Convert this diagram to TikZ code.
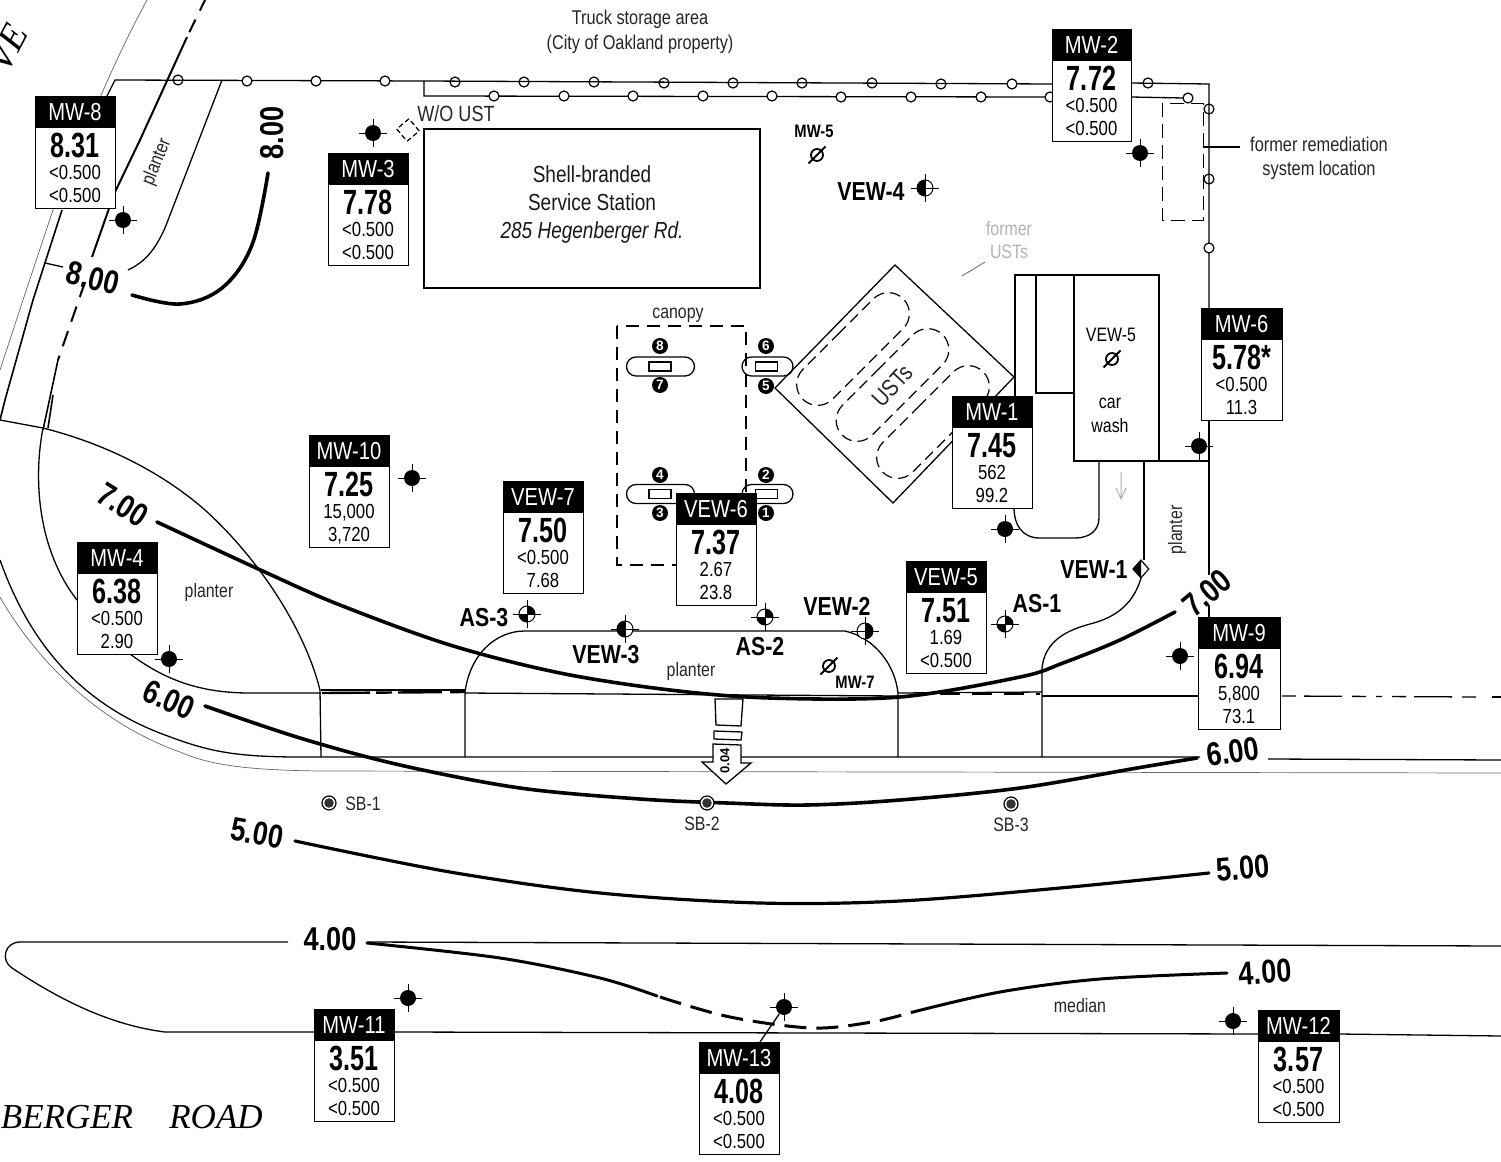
\documentclass[tikz,border=0pt]{standalone}
\usepackage{fontspec}
\setmainfont{Liberation Sans}
\newfontfamily\nar[FakeStretch=0.82]{Liberation Sans}
\newfontfamily\narv[FakeStretch=0.72]{Liberation Sans}
\newfontfamily\rdfont{Liberation Serif}
\usetikzlibrary{shapes.misc,shapes.geometric}
\newcommand\fsz[1]{\fontsize{#1}{#1}\selectfont}
\tikzset{
  base/.style={line width=0.65pt,black},
  hair/.style={line width=0.35pt,black!60},
  contourline/.style={line width=1.8pt,line cap=round},
  lbl/.style={inner sep=0,font=\nar\fsz{9.7},text=black!85,align=center},
  blbl/.style={inner sep=0,font=\nar\bfseries\fsz{13}},
  slbl/.style={inner sep=0,font=\nar\bfseries\fsz{9}},
  clbl/.style={inner sep=0,font=\nar\bfseries\fsz{16.5}},
  frame/.style={draw,line width=0.7pt,fill=white,anchor=north west,minimum width=40pt,minimum height=56pt,inner sep=0},
  hdr/.style={fill=black,text=white,minimum width=40pt,minimum height=16pt,inner sep=0,font=\nar\fsz{12.3}},
  val/.style={inner sep=0,anchor=base,font=\narv\bfseries\fsz{17.5}},
  sub/.style={inner sep=0,anchor=base,font=\nar\fsz{10.2}},
  disp/.style={draw,line width=0.65pt,rounded rectangle,minimum height=9.5pt,inner sep=0},
  rectmark/.style={draw,line width=0.65pt,minimum width=11pt,minimum height=4.5pt,inner sep=0},
  num/.style={circle,fill=black,text=white,minimum size=8pt,inner sep=0,font=\bfseries\fsz{6.8}},
  fencepost/.style={circle,draw,line width=0.6pt,minimum size=5pt,inner sep=0},
  fenceopen/.style={fencepost,fill=white},
  tank/.style={draw,dash pattern=on 5.5pt off 3pt,line width=0.6pt,rounded rectangle,minimum width=71pt,minimum height=21pt,rotate=45,inner sep=0},
  wdot/.style={circle,fill=black,minimum size=8pt,inner sep=0},
  wring/.style={circle,draw,line width=0.5pt,fill=white,minimum size=8pt,inner sep=0},
  slashc/.style={circle,draw,line width=0.9pt,minimum size=6pt,inner sep=0},
  sbmark/.style={circle,draw,line width=0.6pt,fill=white,minimum size=7pt,inner sep=0},
}
\newcommand\wellbox[8]{% name, left, top, title, value, a, b, half width
  \node[frame,minimum width=#8pt] (#1) at (#2,#3) {};
  \node[hdr,minimum width=#8pt] (#1h) at ({#2+#8},{#3+16}) {#4};
  \node[val] (#1v) at ({#2+#8},{#3+61.5}) {#5};
  \node[sub] (#1a) at ({#2+#8},{#3+83}) {#6};
  \node[sub] (#1b) at ({#2+#8},{#3+106}) {#7};
}
\newcommand\crosshair[1]{%
  \draw[line width=0.45pt] (#1.center) +(-14,0) -- +(14,0) (#1.center) +(0,-14) -- +(0,14);}
\newcommand\fullwell[3]{\node[wdot] (#1) at (#2,#3) {};\crosshair{#1}}
\newcommand\halfwell[4]{% name,x,y,start angle
  \node[wring] (#1) at (#2,#3) {};\crosshair{#1}
  \fill (#1.center) ++(#4:4pt) arc[start angle=#4,delta angle=180,radius=4pt] -- cycle;}
\newcommand\quartwell[3]{%
  \node[wring] (#1) at (#2,#3) {};\crosshair{#1}
  \fill (#1.center) -- ++(0:4pt) arc[start angle=0,delta angle=90,radius=4pt] -- cycle;
  \fill (#1.center) -- ++(180:4pt) arc[start angle=180,delta angle=90,radius=4pt] -- cycle;}
\newcommand\slashwell[3]{\node[slashc] (#1) at (#2,#3) {};
  \draw[line width=1pt] (#1.center) +(-8.5,8.5) -- +(8.5,-8.5);}
\newcommand\sbwell[3]{\node[sbmark] (#1) at (#2,#3) {};
  \fill[black!80] (#1.center) circle[radius=2.4pt];}
\begin{document}
\begin{tikzpicture}[x=0.5pt,y=-0.5pt]
\clip (0,0) rectangle (1501,1162);
\fill[white] (0,0) rectangle (1501,1162);

% --- street edges, upper left
\draw[hair] (147,0) .. controls (120,50) and (100,95) .. (53,210) -- (23,300) -- (0,370);
\draw[base,line width=0.8pt] (62,210) -- (33,300) -- (5,400) -- (0,420);
\draw[base,line width=1pt,dash pattern=on 7pt off 5pt] (206,-2) -- (187,37);
\draw[base,line width=1pt] (187,37) -- (140,140) -- (115,192);
\draw[base,line width=1pt] (112,200) -- (92,257);
\draw[base,line width=1pt,dash pattern=on 8pt off 5pt] (85,282) -- (58,360);
\draw[base,line width=0.8pt] (58,360) -- (43,430);
\draw[base,line width=0.8pt] (53,395) -- (48,428);
\draw[base] (45,263) -- (63,267);
% --- planter upper left
\draw[base] (222,80) -- (165,228) .. controls (155,250) and (145,262) .. (128,270);
% --- fence
\draw[base] (105,100) -- (115,80) -- (424,81) -- (1052,84);
\draw[base] (424,81) -- (424,96) -- (1052,97);
\draw[base] (1131,83) -- (1209,84) -- (1209,308);
\draw[base] (1131,97) -- (1184,98);
\draw[base] (1209,419) -- (1209,575);
\draw[base] (1209,605) -- (1209,617);
\foreach \n/\x/\y in {a/178/80,e/455/82,f/524/82,g/594/82,h/664/83,i/733/83,j/802/83,k/872/83,l/941/84,m/1148/83}
  \node[fencepost] (fp\n) at (\x,\y) {};
\foreach \n/\x/\y in {b/247/81,c/316/81,d/385/81,n/1012/84,o/494/96,p/564/96,q/633/96,r/703/96,s/772/96,t/841/97,u/911/97,v/981/97,w/1050/97,x/1188/98,y/1209/248}
  \node[fenceopen] (fp\n) at (\x,\y) {};
\node[fencepost] (fpz) at (1209,109) {};
\node[fencepost] (fpzz) at (1209,179) {};
% --- remediation
\draw[line width=0.5pt,dash pattern=on 7pt off 3.5pt] (1162,103) rectangle (1203,220);
\draw[base] (1203,147) -- (1240,147);
\draw[line width=1.4pt] (1203,147) -- (1214,147);
\node[lbl,font=\nar\fsz{10}] (remed) at (1319,158) {former remediation\\[2pt]system location};
% --- lower-left arcs
\draw[base] (0,420) -- (43,428) .. controls (110,445) and (165,475) .. (205,510) .. controls (260,560) and (305,630) .. (320,690) -- (321,757);
\draw[base] (43,428) .. controls (33,480) and (38,550) .. (77,600);
\draw[base] (130,654) .. controls (165,680) and (200,693) .. (250,693) -- (321,693);
\draw[base] (0,560) .. controls (25,630) and (70,700) .. (165,735) .. controls (205,750) and (230,757) .. (300,757) -- (1200,757);
\draw[base] (1268,759) -- (1501,760);
\draw[hair] (0,597) .. controls (30,650) and (90,720) .. (180,752) .. controls (210,765) and (245,770) .. (320,771) -- (1501,773);
% --- planters in the middle
\draw[base] (321,690) -- (465,690);
\draw[line width=1.2pt,dash pattern=on 24pt off 3pt on 8pt off 3pt on 22pt off 4pt] (322,693) -- (465,692);
\draw[base] (465,757) -- (465,692) .. controls (470,655) and (495,631) .. (525,631) -- (845,631) .. controls (875,638) and (895,665) .. (898,693) -- (898,757);
\draw[base] (465,693) -- (898,696);
\draw[base] (898,693) -- (1042,692);
\draw[line width=1.2pt,dash pattern=on 10pt off 6pt] (940,694) -- (1040,694);
\draw[base] (1042,757) -- (1042,668) .. controls (1045,640) and (1068,630) .. (1090,624) .. controls (1118,617) and (1134,602) .. (1141,578);
\draw[base] (1042,696) -- (1198,696);
\draw[base,dash pattern=on 7pt off 4pt on 19pt off 5pt on 7pt off 5pt on 3pt off 5pt] (1282,696) -- (1480,697);
\draw[base] (1492,697) -- (1501,697);
% --- median
\draw[base] (288,942) -- (20,942) .. controls (5,942) and (0,960) .. (12,968) .. controls (60,1000) and (110,1025) .. (165,1032) -- (314,1032);
\draw[base] (367,942) -- (1501,946);
\draw[base] (394,1032) -- (1258,1034);
\draw[base] (1339,1034) -- (1501,1036);
% --- building
\node[draw,line width=0.8pt,minimum width=168pt,minimum height=79.5pt,inner sep=0] (bldg) at (592,208.5) {};
\node[inner sep=0,font=\nar\fsz{11.6},align=center,text=black!90] (bldgt) at (592,204) {Shell-branded\\[2.4pt]Service Station\\[2.4pt]\itshape 285 Hegenberger Rd.};
\node[draw,dash pattern=on 2.5pt off 1.5pt,line width=0.6pt,minimum size=8pt,inner sep=0,rotate=40] (wo) at (408,130) {};
\node[lbl,font=\nar\fsz{11}] (wotxt) at (456,114) {W/O UST};
\node[lbl,font=\nar\fsz{9.95}] (truck) at (640,32) {Truck storage area\\[2.3pt](City of Oakland property)};
% --- canopy and dispensers
\draw[line width=0.55pt,dash pattern=on 6.5pt off 4pt] (617,326) rectangle (746,565);
\node[lbl] (canopy) at (678,315) {canopy};
\node[disp,minimum width=34pt] (d78) at (660.5,366.5) {};
\node[disp,minimum width=25.5pt] (d56) at (767.5,366.5) {};
\node[disp,minimum width=34pt] (d34) at (660.5,494) {};
\node[disp,minimum width=25.5pt] (d12) at (767.5,494) {};
\node[rectmark] (r78) at (660,366.5) {};
\node[rectmark] (r56) at (766.5,366.5) {};
\node[rectmark] (r34) at (660,494) {};
\node[rectmark] (r12) at (766.5,494) {};
\node[num] (n8) at (660,346) {8};
\node[num] (n7) at (660,385) {7};
\node[num] (n6) at (766,346) {6};
\node[num] (n5) at (766,386) {5};
\node[num] (n4) at (660,475) {4};
\node[num] (n3) at (660,513) {3};
\node[num] (n2) at (766,475) {2};
\node[num] (n1) at (766,513) {1};
% --- USTs
\draw[base] (895,265) -- (1014,377) -- (893,503) -- (775,388) -- cycle;
\node[tank] (t1) at (853,349) {};
\node[tank] (t2) at (892.5,385) {};
\node[tank] (t3) at (933,422) {};
\node[lbl,rotate=47,font=\nar\fsz{12}] (usttxt) at (892,386) {USTs};
\node[lbl,text=black!30] (fu) at (1009,240) {former\\[2pt]USTs};
\draw[line width=0.4pt,black!60] (962,276) -- (985,262);
% --- car wash
\draw[base] (1015,396) -- (1015,275) -- (1159,275) -- (1159,461) -- (1074,461) -- (1074,275);
\draw[base] (1036,275) -- (1036,393) -- (1074,393);
\draw[base] (1159,461) -- (1209,461);
\draw[base] (1099,461) -- (1099,518) .. controls (1099,530) and (1090,538) .. (1075,538) -- (1040,538) .. controls (1022,538) and (1014,525) .. (1014,507);
\draw[base] (1144,461) -- (1144,560);
\draw[black!30,line width=0.5pt] (1121,472) -- (1121,498) (1116,488) -- (1121,499) -- (1126,488);
\node[lbl,text=black] (vew5c) at (1111,335) {VEW-5};
\slashwell{vew5m}{1112}{359}
\node[lbl,text=black] (car) at (1110,403) {car};
\node[lbl,text=black] (wash) at (1110,426) {wash};
% --- flow arrow
\draw[base,fill=white] (715,699) -- (743,699) -- (741,726) -- (716,725) -- cycle;
\draw[base,fill=white] (714,731) -- (742,732) -- (741,740) -- (714,739) -- cycle;
\draw[base,fill=white] (713,744) -- (741,745) -- (741,763) -- (751,763) -- (726,784) -- (702,762) -- (713,762) -- cycle;
\node[inner sep=0,rotate=90,font=\bfseries\fsz{6.5}] (grad) at (725,761) {0.04};
% --- contours
\draw[contourline] plot[smooth,tension=.6] coordinates {(132,295) (180,304) (222,288) (252,245) (268,173)};
\draw[contourline] plot[smooth,tension=.55] coordinates {(157,522) (267,573) (340,605) (450,645) (560,673) (670,690) (770,698) (900,697) (1020,677) (1063,663) (1120,640) (1175,612)};
\draw[contourline] plot[smooth,tension=.55] coordinates {(205,706) (300,738) (400,765) (520,788) (640,799) (727,803) (807,805) (900,800) (1020,788) (1137,768) (1197,758)};
\draw[contourline,line width=1.6pt] plot[smooth,tension=.55] coordinates {(295,841) (450,872) (600,893) (760,903) (900,901) (1060,888) (1209,873)};
\draw[contourline,line width=1.5pt] plot[smooth,tension=.55] coordinates {(367,943) (500,958) (600,978) (657,996)};
\draw[contourline,line width=1.5pt,line cap=butt,dash pattern=on 11pt off 5pt] plot[smooth,tension=.55] coordinates {(660,997) (730,1017) (812,1028) (872,1022) (913,1012)};
\draw[contourline,line width=1.5pt] plot[smooth,tension=.55] coordinates {(913,1012) (1000,992) (1100,979) (1227,973)};
\node[clbl,rotate=-14] (c8a) at (93,278) {8.00};
\node[clbl,rotate=90] (c8b) at (272,133) {8.00};
\node[clbl,rotate=-32] (c7a) at (123,505) {7.00};
\node[clbl,rotate=40] (c7b) at (1207,593) {7.00};
\node[clbl,rotate=-24] (c6a) at (169,700) {6.00};
\node[clbl,rotate=8] (c6b) at (1233,752) {6.00};
\node[clbl,rotate=-10] (c5a) at (257,833) {5.00};
\node[clbl,rotate=5] (c5b) at (1243,868) {5.00};
\node[clbl] (c4a) at (330,939) {4.00};
\node[clbl,rotate=4] (c4b) at (1265,972) {4.00};
% --- text labels
\node[lbl,rotate=68] (pl1) at (157,162) {planter};
\node[lbl] (pl2) at (209,592) {planter};
\node[lbl] (pl3) at (691,671) {planter};
\node[lbl,rotate=90] (pl4) at (1177,530) {planter};
\node[lbl] (med) at (1080,1006) {median};
\node[inner sep=0,font=\rdfont\itshape\fsz{17.5}] (rd1) at (67,1117) {BERGER};
\node[inner sep=0,font=\rdfont\itshape\fsz{17.5}] (rd2) at (216,1117) {ROAD};
\node[inner sep=0,font=\rdfont\itshape\fsz{19},rotate=62] (ave) at (8,48) {VE};
% --- wells
\fullwell{w8}{123}{220}
\fullwell{w3}{373}{133}
\fullwell{w2}{1140}{153}
\fullwell{w10}{412}{478}
\fullwell{w4}{169}{659}
\fullwell{w1}{1005}{529}
\fullwell{w6}{1199}{446}
\fullwell{w9}{1180}{656}
\fullwell{w11}{408}{998}
\fullwell{w13}{784}{1007}
\fullwell{w12}{1233}{1021}
\draw[base] (w13) -- (760,1042);
\halfwell{v4}{925}{188}{90}
\halfwell{v3}{625}{629}{90}
\halfwell{v2}{865}{631}{-90}
\quartwell{as3}{527}{614}
\quartwell{as2}{765}{617}
\quartwell{as1}{1005}{624}
\node[diamond,aspect=0.88,draw,line width=0.6pt,fill=white,minimum width=8pt,minimum height=9pt,inner sep=0] (v1) at (1141,569) {};
\fill (v1.north) -- (v1.west) -- (v1.south) -- cycle;
\slashwell{m5}{817}{155}
\slashwell{m7}{829}{666}
\sbwell{sb1}{329}{803}
\sbwell{sb2}{707}{803}
\sbwell{sb3}{1011}{804}
\node[lbl] (sb1t) at (363,804) {SB-1};
\node[lbl] (sb2t) at (702,824) {SB-2};
\node[lbl] (sb3t) at (1011,825) {SB-3};
\node[blbl] (v4t) at (871,192) {VEW-4};
\node[blbl] (v3t) at (606,655) {VEW-3};
\node[blbl] (v2t) at (837,606) {VEW-2};
\node[blbl] (as3t) at (484,618) {AS-3};
\node[blbl] (as2t) at (760,647) {AS-2};
\node[blbl] (as1t) at (1037,604) {AS-1};
\node[blbl] (v1t) at (1094,570) {VEW-1};
\node[slbl] (m5t) at (814,131) {MW-5};
\node[slbl] (m7t) at (855,682) {MW-7};
% --- data boxes
\wellbox{bm8}{35}{96}{MW-8}{8.31}{<0.500}{<0.500}{40}
\wellbox{bm3}{328}{153}{MW-3}{7.78}{<0.500}{<0.500}{40}
\wellbox{bm2}{1052}{29}{MW-2}{7.72}{<0.500}{<0.500}{39.5}
\wellbox{bm10}{309}{435}{MW-10}{7.25}{15,000}{3,720}{40}
\wellbox{bm4}{77}{542}{MW-4}{6.38}{<0.500}{2.90}{40}
\wellbox{bv7}{503}{481}{VEW-7}{7.50}{<0.500}{7.68}{40}
\wellbox{bv6}{676}{493}{VEW-6}{7.37}{2.67}{23.8}{40}
\wellbox{bv5}{906}{561}{VEW-5}{7.51}{1.69}{<0.500}{40}
\wellbox{bm1}{952}{396}{MW-1}{7.45}{562}{99.2}{40}
\wellbox{bm6}{1201}{308}{MW-6}{5.78*}{<0.500}{11.3}{40.5}
\wellbox{bm9}{1198}{617}{MW-9}{6.94}{5,800}{73.1}{41}
\wellbox{bm11}{314}{1009}{MW-11}{3.51}{<0.500}{<0.500}{40}
\wellbox{bm13}{699}{1042}{MW-13}{4.08}{<0.500}{<0.500}{40}
\wellbox{bm12}{1258}{1010}{MW-12}{3.57}{<0.500}{<0.500}{40.5}
\end{tikzpicture}
\end{document}
